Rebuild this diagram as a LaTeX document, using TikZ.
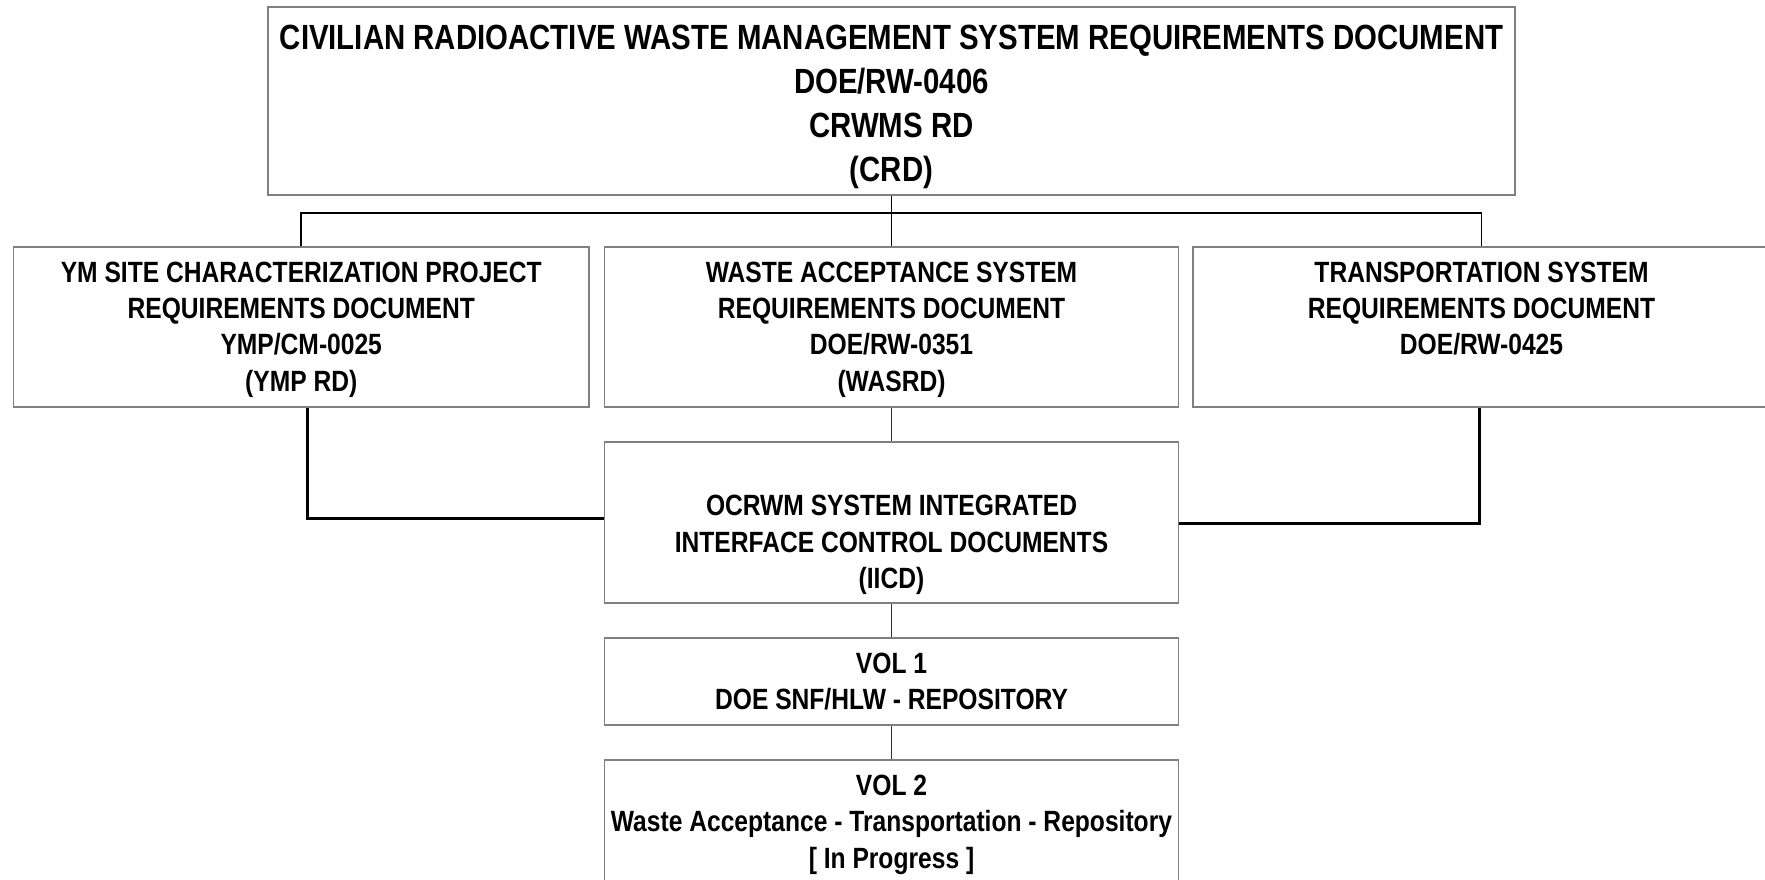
\documentclass[tikz,border=0pt]{standalone}
\usepackage{fontspec}
\setmainfont{Liberation Sans}[FakeStretch=0.84]
\newcommand{\topstrut}[1]{\rule{0pt}{#1}}
\begin{document}
\begin{tikzpicture}[x=1pt,y=-1pt,
  box/.style={draw=black!50, line width=1.5pt, inner sep=0pt, align=center,
    font=\fontsize{29.3}{36.4}\selectfont\bfseries},
  bigbox/.style={box, font=\fontsize{35}{44}\selectfont\bfseries},
  tree/.style={draw=black, line width=1.8pt},
  side/.style={draw=black, line width=3pt},
  thin/.style={draw=black!80, line width=1.1pt}]
\useasboundingbox (0,0) rectangle (1765,879);
\node[bigbox, minimum width=1247pt, minimum height=188pt] (top) at (891.5,101)
  {\topstrut{36pt}CIVILIAN RADIOACTIVE WASTE MANAGEMENT SYSTEM REQUIREMENTS DOCUMENT\\ DOE/RW-0406\\ CRWMS RD\\ (CRD)};
\node[box, minimum width=575.5pt, minimum height=160pt] (left) at (301.25,327)
  {\topstrut{25.5pt}YM SITE CHARACTERIZATION PROJECT\\ REQUIREMENTS DOCUMENT\\ YMP/CM-0025\\ (YMP RD)};
\node[box, minimum width=574pt, minimum height=160pt] (mid) at (891.5,327)
  {\topstrut{25.5pt}WASTE ACCEPTANCE SYSTEM\\ REQUIREMENTS DOCUMENT\\ DOE/RW-0351\\ (WASRD)};
\node[box, minimum width=577pt, minimum height=160pt] (right) at (1481.5,327)
  {\topstrut{25.5pt}TRANSPORTATION SYSTEM\\ REQUIREMENTS DOCUMENT\\ DOE/RW-0425\\ \phantom{(Y)}};
\node[box, minimum width=574pt, minimum height=161pt] (iicd) at (891.5,522.5)
  {\topstrut{29pt}\phantom{(Y)}\\ OCRWM SYSTEM INTEGRATED\\ INTERFACE CONTROL DOCUMENTS\\ (IICD)};
\node[box, minimum width=574pt, minimum height=87pt] (vol1) at (891.5,681.5)
  {VOL 1\\ DOE SNF/HLW - REPOSITORY};
\node[box, minimum width=574pt, minimum height=124pt] (vol2) at (891.5,822)
  {\topstrut{25.5pt}VOL 2\\ Waste Acceptance - Transportation - Repository\\ {[} In Progress {]}};
\draw[tree] (top.south) -- ++(0,17) coordinate (j);
\draw[tree] (left.north) |- (j) -| (right.north);
\draw[tree] (j) -- (mid.north);
\draw[side] ([xshift=6pt]left.south) |- ([yshift=4.5pt]iicd.west);
\draw[side] ([xshift=-2.5pt]right.south) |- ([yshift=-0.5pt]iicd.east);
\draw[thin] (mid.south) -- (iicd.north);
\draw[thin] (iicd.south) -- (vol1.north);
\draw[thin] (vol1.south) -- (vol2.north);
\end{tikzpicture}
\end{document}
